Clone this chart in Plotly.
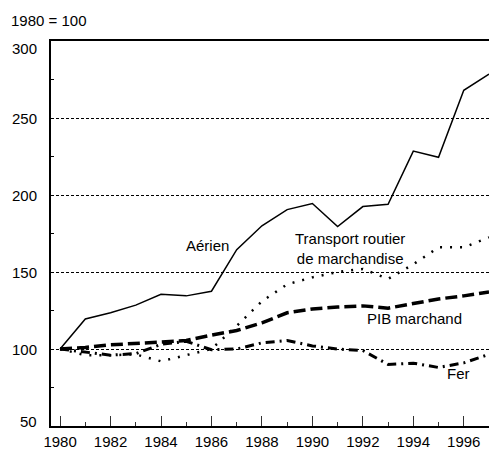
import plotly.graph_objects as go

years = list(range(1980, 1998))
aerien = [100, 119.5, 123.5, 128.5, 135.5, 134.5, 137.5, 164.5, 180, 190.5, 194.5, 179.5, 192.5, 194, 228.5, 224.5, 268, 278.5]
routier = [100, 96, 96, 96.5, 92, 96, 100, 115, 131, 142, 146.5, 150, 152, 145.5, 155, 166, 166, 172.5]
pib = [100, 101, 102.7, 103.5, 104.2, 105.5, 109, 112, 117, 123.5, 126, 127.3, 128, 126.5, 129.5, 132.5, 134.5, 137]
fer = [100, 98, 96, 97, 103, 105, 99.5, 100, 104, 105.5, 102, 100, 99, 90, 90.8, 88, 91, 96.5]

y_ticks = [50, 100, 150, 200, 250, 300]
x_ticks = list(range(1980, 1998, 2))

labels = [
    ("Aérien", 1985.86, 167.5),
    ("Transport routier<br>de marchandise", 1991.5, 165.5),
    ("PIB marchand", 1994.03, 120),
    ("Fer", 1995.81, 84.3),
]

FONT = "Liberation Sans, Arial, Helvetica, sans-serif"

fig = go.Figure()
fig.add_trace(go.Scatter(x=years, y=aerien, mode="lines",
                         line=dict(color="black", width=1.5)))
fig.add_trace(go.Scatter(x=years, y=routier, mode="lines",
                         line=dict(color="black", width=2.5, dash="2px,8px")))
fig.add_trace(go.Scatter(x=years, y=pib, mode="lines",
                         line=dict(color="black", width=3.5, dash="12px,5px")))
fig.add_trace(go.Scatter(x=years, y=fer, mode="lines",
                         line=dict(color="black", width=3, dash="9px,5px,2px,5px")))

annotations = []
for txt, x, y in labels:
    annotations.append(dict(text=txt, x=x, y=y, xref="x", yref="y",
                            showarrow=False, align="center",
                            font=dict(family=FONT, size=15, color="black")))

shifts = {300: -7, 50: 5}
for v in y_ticks:
    annotations.append(dict(text=str(v), x=0, y=v, xref="paper", yref="y",
                            xanchor="right", yanchor="middle", xshift=-12,
                            yshift=shifts.get(v, 0), showarrow=False,
                            font=dict(family=FONT, size=15, color="black")))

annotations.append(dict(text="1980 = 100", x=0, y=1, xref="paper", yref="paper",
                        xanchor="left", yanchor="middle", xshift=-42, yshift=21,
                        showarrow=False,
                        font=dict(family=FONT, size=15, color="black")))

fig.update_layout(
    width=489, height=450,
    margin=dict(l=51, r=0, t=41, b=24),
    paper_bgcolor="white", plot_bgcolor="white",
    showlegend=False,
    annotations=annotations,
    font=dict(family=FONT, size=15, color="black"),
    xaxis=dict(range=[1979.64, 1997.0], tickmode="array", tickvals=x_ticks,
               ticktext=[str(t) for t in x_ticks], automargin=False,
               ticks="inside", ticklen=10, tickwidth=1, tickcolor="#333",
               ticklabelstandoff=1,
               showgrid=False, zeroline=False,
               showline=True, linecolor="black", linewidth=1.5, mirror=True,
               minor=dict(dtick=1, tick0=1980, ticks="inside", ticklen=4,
                          tickcolor="#333", showgrid=False),
               tickfont=dict(family=FONT, size=15, color="black")),
    yaxis=dict(range=[50, 300], tickmode="array", tickvals=y_ticks,
               showticklabels=False, automargin=False,
               ticks="inside", ticklen=3, tickcolor="black",
               showgrid=True, gridcolor="black", gridwidth=1, griddash="3px,2px",
               zeroline=False, showline=True, linecolor="black", linewidth=1.5,
               minor=dict(dtick=25, tick0=50, ticks="inside", ticklen=3,
                          tickcolor="black", showgrid=False)),
)

fig.write_html("out.html", config={"displayModeBar": False},
               post_script="document.body.style.margin='0';document.body.style.overflow='hidden';")
